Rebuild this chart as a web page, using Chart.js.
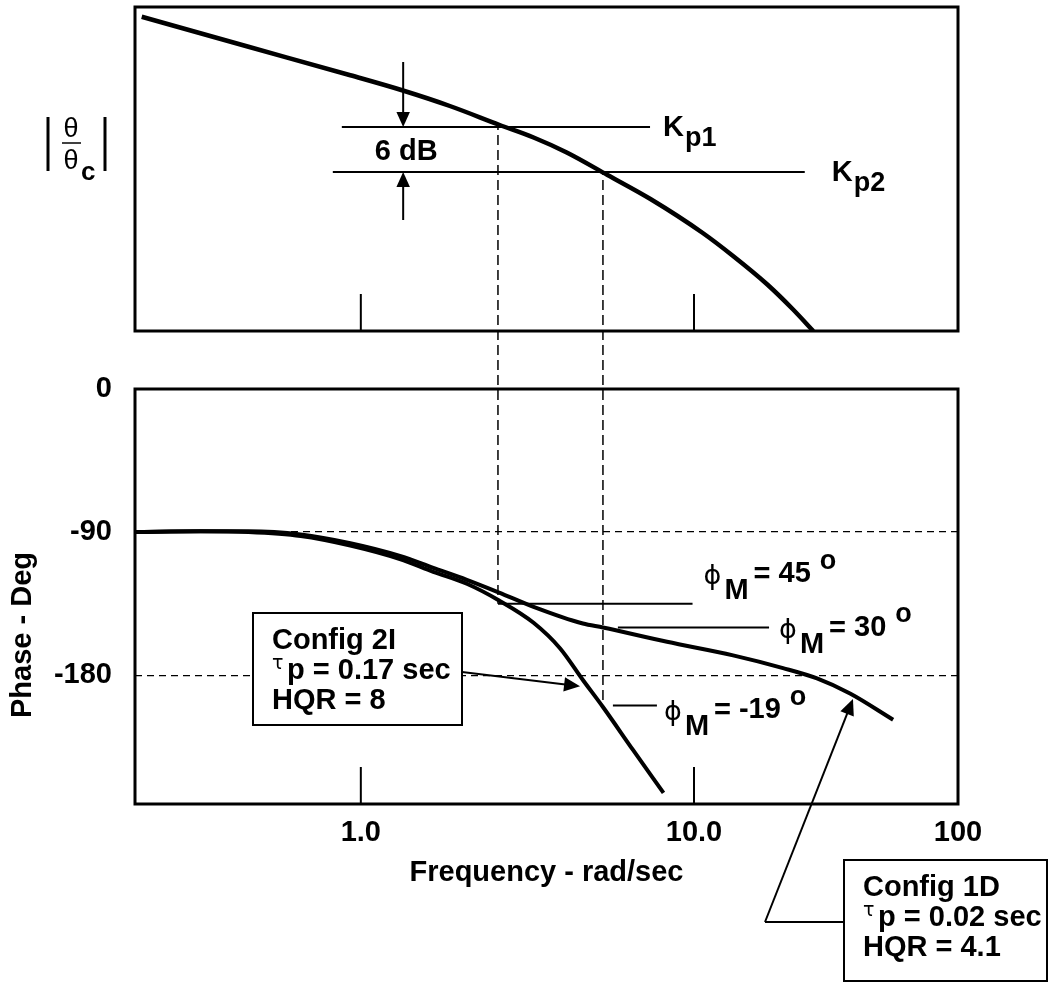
<!DOCTYPE html>
<html lang="en">
<head>
<meta charset="utf-8">
<title>Pitch attitude frequency response</title>
<script src="https://cdn.jsdelivr.net/npm/chart.js@4.4.1/dist/chart.umd.min.js"></script>
<style>
  html, body { margin: 0; padding: 0; background: #fff; }
  .panel { position: absolute; left: 0; }
  #magChart { top: 0; }
  #phaseChart { top: 360px; }
</style>
</head>
<body>
<canvas id="magChart" class="panel" width="1050" height="360"></canvas>
<canvas id="phaseChart" class="panel" width="1050" height="623"></canvas>
<script>
// frequency axis, rad/sec
const freqMin = 0.21;
const freqMax = 62;
const freqTicks = [1, 10, 100];
const freqTickLabels = ['1.0', '10.0', '100'];

// |theta / theta_c| in dB, relative to the Kp1 level
const magFreq = [0.22, 0.46, 0.93, 1.33, 1.85, 2.6, 3.3, 4.15, 5.5, 7.4, 10.6, 13.1, 16.6, 19.8, 22.8];
const magDb   = [14.7, 10.7, 6.9, 4.9, 2.8, 0.3, -1.4, -3.4, -6.4, -9.6, -14.1, -17.2, -21.0, -24.3, -27.2];

// gain levels, where they cut the curve, and how far their lines run
const kpNames    = ['p1', 'p2'];
const kpGain     = [0, -6];
const kpFreq     = [2.58, 5.33];
const kpLineFrom = [0.877, 0.824];
const kpLineTo   = [7.38, 21.5];

// phase, deg
const phaseTicks = [0, -90, -180];
const cfg1dFreq  = [0.21, 0.33, 0.46, 0.66, 0.93, 1.31, 1.65, 2.08, 2.6, 3.3, 4.64, 5.33, 8.3, 13.1, 18.5, 23.4, 29.4, 39.6];
const cfg1dPhase = [-90, -89.5, -89.5, -91.5, -97, -105, -112.5, -120, -128, -137, -147.5, -150, -159, -167.5, -175.5, -182, -191.5, -208];
const cfg2iFreq  = [0.21, 0.33, 0.46, 0.66, 0.93, 1.31, 1.65, 2.08, 2.6, 3.3, 3.96, 4.64, 5.33, 6.56, 8.1];
const cfg2iPhase = [-90, -89.5, -90, -92.5, -98.5, -107, -115, -122.5, -133, -147, -163, -183, -200, -227, -254];

// phase margins and the extent of their marker lines
const marginDeg  = [45, 30, -19];
const marginFrom = [2.58, 5.91, 5.71];
const marginTo   = [9.9, 16.8, 7.74];

const FONT = '"Liberation Sans", Arial, Helvetica, sans-serif';
const SYM = '"DejaVu Sans", sans-serif';
const BOLD = 'bold 29px ' + FONT;
const GUIDE_DASH = [10, 5];

Chart.defaults.font.family = FONT;
Chart.defaults.color = '#000';

const pairs = (xs, ys) => xs.map((x, i) => ({ x, y: ys[i] }));
const series = (points, width) => ({
  data: points, borderColor: '#000', borderWidth: width, pointRadius: 0, fill: false,
  cubicInterpolationMode: 'monotone'
});

function text(ctx, str, x, y, font, align) {
  ctx.font = font;
  ctx.textAlign = align || 'left';
  ctx.textBaseline = 'middle';
  ctx.fillText(str, x, y);
  return ctx.measureText(str).width;
}

function arrow(ctx, x1, y1, x2, y2, head) {
  const a = Math.atan2(y2 - y1, x2 - x1);
  const c = Math.cos(a), s = Math.sin(a);
  ctx.beginPath();
  ctx.moveTo(x1, y1);
  ctx.lineTo(x2 - c * head * 0.8, y2 - s * head * 0.8);
  ctx.stroke();
  ctx.beginPath();
  ctx.moveTo(x2, y2);
  ctx.lineTo(x2 - head * c + head * 0.45 * s, y2 - head * s - head * 0.45 * c);
  ctx.lineTo(x2 - head * c - head * 0.45 * s, y2 - head * s + head * 0.45 * c);
  ctx.closePath();
  ctx.fill();
}

// box round the plot plus the short decade ticks standing on its floor
const framePlugin = {
  id: 'frame',
  afterDatasetsDraw(chart) {
    const { ctx, chartArea: a, scales: { x } } = chart;
    ctx.save();
    ctx.strokeStyle = '#000';
    ctx.lineWidth = 3;
    ctx.strokeRect(a.left, a.top, a.right - a.left, a.bottom - a.top);
    ctx.lineWidth = 2;
    freqTicks.filter(f => f < x.max).forEach(f => {
      const px = x.getPixelForValue(f);
      ctx.beginPath();
      ctx.moveTo(px, a.bottom);
      ctx.lineTo(px, a.bottom - 37);
      ctx.stroke();
    });
    ctx.restore();
  }
};

const magNotes = {
  id: 'magNotes',
  afterDraw(chart) {
    const { ctx, scales: { x, y } } = chart;
    ctx.save();
    ctx.fillStyle = '#000';
    ctx.strokeStyle = '#000';

    // crossover guides, carried on down into the phase plot
    ctx.lineWidth = 1.5;
    ctx.setLineDash(GUIDE_DASH);
    kpFreq.forEach((f, i) => {
      const px = x.getPixelForValue(f);
      const top = y.getPixelForValue(kpGain[i]);
      ctx.lineDashOffset = top;
      ctx.beginPath();
      ctx.moveTo(px, top);
      ctx.lineTo(px, chart.height);
      ctx.stroke();
    });
    ctx.setLineDash([]);

    // 6 dB spacing arrows
    const ax = x.getPixelForValue(1.34);
    const y1 = y.getPixelForValue(kpGain[0]);
    const y2 = y.getPixelForValue(kpGain[1]);
    ctx.lineWidth = 2;
    arrow(ctx, ax, y1 - 65, ax, y1, 15);
    arrow(ctx, ax, y2 + 48, ax, y2, 15);
    text(ctx, '6 dB', ax + 3, (y1 + y2) / 2 + 2, BOLD, 'center');

    // Kp labels at the line ends
    const gaps = [13, 27];
    kpNames.forEach((sub, i) => {
      const lx = x.getPixelForValue(kpLineTo[i]) + gaps[i];
      const ly = y.getPixelForValue(kpGain[i]);
      const w = text(ctx, 'K', lx, ly + 1, BOLD);
      text(ctx, sub, lx + w + 1, ly + 12, 'bold 27px ' + FONT);
    });

    // |theta / theta_c|
    ctx.lineWidth = 3;
    [48, 105].forEach(bx => {
      ctx.beginPath();
      ctx.moveTo(bx, 117);
      ctx.lineTo(bx, 171);
      ctx.stroke();
    });
    text(ctx, 'θ', 71, 130, '27px ' + FONT, 'center');
    ctx.lineWidth = 1.5;
    ctx.beginPath();
    ctx.moveTo(62, 143);
    ctx.lineTo(81, 143);
    ctx.stroke();
    text(ctx, 'θ', 71, 162, '27px ' + FONT, 'center');
    text(ctx, 'c', 81, 173, 'bold 26px ' + FONT);
    ctx.restore();
  }
};

function marginLabel(ctx, x0, y0, value) {
  text(ctx, 'ϕ', x0, y0, '27px ' + SYM);
  text(ctx, 'M', x0 + 21, y0 + 14, BOLD);
  text(ctx, '=', x0 + 50, y0 - 2, BOLD);
  const w = text(ctx, String(value), x0 + 75, y0 - 3, BOLD);
  text(ctx, 'o', x0 + 75 + w + 9, y0 - 16, 'bold 27px ' + FONT);
}

function noteBox(ctx, left, top, w, h, title, tau, hqr) {
  ctx.fillStyle = '#fff';
  ctx.fillRect(left, top, w, h);
  ctx.fillStyle = '#000';
  ctx.lineWidth = 2;
  ctx.strokeRect(left, top, w, h);
  const tx = left + 19;
  text(ctx, title, tx, top + 28, BOLD);
  text(ctx, 'τ', tx, top + 51, '19px ' + SYM);
  text(ctx, 'p = ' + tau + ' sec', tx + 15, top + 58, BOLD);
  text(ctx, 'HQR = ' + hqr, tx, top + 88, BOLD);
}

const phaseNotes = {
  id: 'phaseNotes',
  afterDraw(chart) {
    const { ctx, scales: { x, y } } = chart;
    ctx.save();
    ctx.fillStyle = '#000';
    ctx.strokeStyle = '#000';

    // crossover guides coming down from the gain plot
    const ends = [-180 + marginDeg[0], -180 + marginDeg[2]];
    ctx.lineWidth = 1.5;
    ctx.setLineDash(GUIDE_DASH);
    ctx.lineDashOffset = 360;
    kpFreq.forEach((f, i) => {
      const px = x.getPixelForValue(f);
      ctx.beginPath();
      ctx.moveTo(px, 0);
      ctx.lineTo(px, y.getPixelForValue(ends[i]));
      ctx.stroke();
    });
    ctx.setLineDash([]);

    // phase margin labels
    const nudge = [[11, -26.5], [10, 3], [7, 8]];
    marginDeg.forEach((m, i) => {
      marginLabel(ctx,
        x.getPixelForValue(marginTo[i]) + nudge[i][0],
        y.getPixelForValue(-180 + m) + nudge[i][1], m);
    });

    // configuration call-outs
    noteBox(ctx, 253, 253, 209, 112, 'Config 2I', '0.17', '8');
    ctx.lineWidth = 2;
    arrow(ctx, 462, 312, x.getPixelForValue(4.55), y.getPixelForValue(-187), 16);

    noteBox(ctx, 844, 500, 203, 121, 'Config 1D', '0.02', '4.1');
    ctx.lineWidth = 2;
    ctx.beginPath();
    ctx.moveTo(844, 562);
    ctx.lineTo(765, 562);
    ctx.stroke();
    arrow(ctx, 765, 562, x.getPixelForValue(30), y.getPixelForValue(-195), 16);

    // vertical axis title
    ctx.translate(23, 275);
    ctx.rotate(-Math.PI / 2);
    text(ctx, 'Phase - Deg', 0, 0, BOLD, 'center');
    ctx.restore();
  }
};

new Chart(document.getElementById('magChart'), {
  type: 'line',
  data: {
    datasets: [
      series(pairs(magFreq, magDb), 4.5),
      ...kpGain.map((g, i) => series([{ x: kpLineFrom[i], y: g }, { x: kpLineTo[i], y: g }], 2))
    ]
  },
  options: {
    responsive: false,
    animation: false,
    devicePixelRatio: 1,
    layout: { padding: { left: 135, right: 92, top: 7, bottom: 29 } },
    scales: {
      x: { type: 'logarithmic', min: freqMin, max: freqMax, bounds: 'data', display: false },
      y: { type: 'linear', min: -27.2, max: 16, bounds: 'data', display: false }
    },
    plugins: { legend: { display: false }, tooltip: { enabled: false } }
  },
  plugins: [framePlugin, magNotes]
});

new Chart(document.getElementById('phaseChart'), {
  type: 'line',
  data: {
    datasets: [
      series(pairs(cfg2iFreq, cfg2iPhase), 4),
      series(pairs(cfg1dFreq, cfg1dPhase), 4),
      ...marginDeg.map((m, i) => series([{ x: marginFrom[i], y: -180 + m }, { x: marginTo[i], y: -180 + m }], 2))
    ]
  },
  options: {
    responsive: false,
    animation: false,
    devicePixelRatio: 1,
    layout: { padding: { left: 0, right: 92, top: 29, bottom: 93 } },
    scales: {
      x: {
        type: 'logarithmic', min: freqMin, max: freqMax, bounds: 'data',
        // the last decade label sits at the end of the axis
        afterBuildTicks: s => { s.ticks = freqTicks.map(v => ({ value: Math.min(v, s.max) })); },
        afterFit: s => { s.height = 86; },
        ticks: {
          callback: (v, i) => freqTickLabels[i],
          font: { size: 29, weight: 'bold' }, color: '#000',
          padding: 12, maxRotation: 0, autoSkip: false
        },
        grid: { display: false, drawTicks: false },
        border: { display: false },
        title: {
          display: true, text: 'Frequency - rad/sec',
          font: { size: 29, weight: 'bold' }, color: '#000', padding: 0
        }
      },
      y: {
        type: 'linear', min: -261, max: 0, bounds: 'data',
        afterBuildTicks: s => { s.ticks = phaseTicks.map(v => ({ value: v })); },
        // fixed gutter; labels must not push the plot top down
        afterFit: s => { s.width = 135; s.paddingTop = 0; s.paddingBottom = 0; },
        ticks: {
          callback: v => String(v),
          font: { size: 29, weight: 'bold' }, color: '#000', padding: 23
        },
        grid: {
          drawTicks: false, lineWidth: 1.3,
          color: c => (c.tick && c.tick.value === 0) ? 'rgba(0,0,0,0)' : '#000'
        },
        border: { display: false, dash: [7, 5] }
      }
    },
    plugins: { legend: { display: false }, tooltip: { enabled: false } }
  },
  plugins: [framePlugin, phaseNotes]
});
</script>
</body>
</html>
